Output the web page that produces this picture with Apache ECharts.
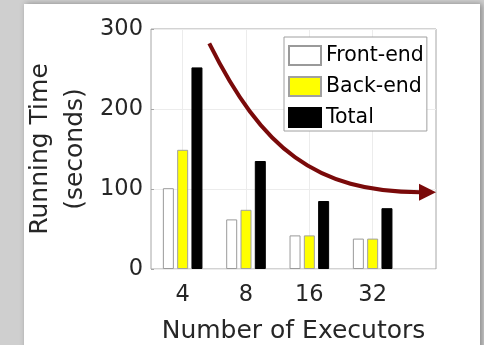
<!DOCTYPE html>
<html>
<head>
<meta charset="utf-8">
<script src="https://cdn.jsdelivr.net/npm/echarts@6/dist/echarts.min.js"></script>
<style>
  html, body { margin: 0; padding: 0; background: #cfcfcf; }
  #chart { width: 484px; height: 345px; }
</style>
</head>
<body>
<div id="chart"></div>
<script>
// Running time per stage for each executor count
const executors = ['4', '8', '16', '32'];
const frontEnd = [101, 62, 42, 38];
const backEnd = [149, 74, 42, 38];
const total = [252, 135, 85, 76];
const yTicks = [0, 100, 200, 300];

// Trend arrow anchor points, in axis units (x = executor slot, y = seconds)
const trendCurve = [[1.42, 282], [2.25, 150], [3.1, 96], [4.75, 96]];
const trendTip = [5.0, 96];

const FONT = 'DejaVu Sans';
const INK = '#262626';

const chart = echarts.init(document.getElementById('chart'), null, { renderer: 'canvas' });

const slots = executors.map((_, i) => i + 1);
const toPairs = arr => arr.map((v, i) => [slots[i], v]);

chart.setOption({
  backgroundColor: '#cfcfcf',
  animation: false,
  textStyle: { fontFamily: FONT, color: INK },
  grid: {
    left: 151, top: 29, width: 285, height: 240,
    show: true, borderColor: '#a6a6a6', borderWidth: 1,
    backgroundColor: '#ffffff',
    outerBoundsMode: 'none'
  },
  legend: {
    orient: 'vertical',
    left: 284, top: 37,
    padding: [8, 3, 3, 4],
    itemWidth: 32, itemHeight: 19, itemGap: 10,
    icon: 'rect',
    selectedMode: false,
    backgroundColor: '#ffffff',
    borderColor: '#a0a0a0', borderWidth: 1, borderRadius: 0,
    textStyle: { fontFamily: FONT, fontSize: 20.5, color: '#000', lineHeight: 20 },
    data: ['Front-end', 'Back-end', 'Total']
  },
  xAxis: {
    type: 'value',
    min: 0.5, max: 5, interval: 0.5,
    name: 'Number of Executors',
    nameLocation: 'middle', nameGap: 50, nameMoveOverlap: false,
    nameTextStyle: { fontFamily: FONT, fontSize: 25, color: INK },
    axisLine: { show: false },
    axisTick: { show: true, inside: true, length: 3, lineStyle: { color: '#a6a6a6' }, customValues: slots },
    axisLabel: {
      fontFamily: FONT, fontSize: 22.5, color: INK, margin: 15,
      customValues: slots,
      formatter: v => executors[Math.round(v) - 1] || ''
    },
    splitLine: { show: true, lineStyle: { color: '#ececec', width: 1 } }
  },
  yAxis: {
    type: 'value',
    min: yTicks[0], max: yTicks[yTicks.length - 1], interval: 100,
    name: 'Running Time\n(seconds)',
    nameLocation: 'middle', nameGap: 58, nameRotate: 90, nameMoveOverlap: false,
    nameTextStyle: { fontFamily: FONT, fontSize: 25, color: INK, lineHeight: 35, align: 'center' },
    axisLine: { show: false },
    axisTick: { show: true, inside: true, length: 3, lineStyle: { color: '#a6a6a6' } },
    axisLabel: { fontFamily: FONT, fontSize: 22.5, color: INK, margin: 8, padding: [4, 0, 0, 0] },
    splitLine: { show: true, lineStyle: { color: '#ececec', width: 1 } }
  },
  series: [
    {
      name: 'Front-end', type: 'bar', data: toPairs(frontEnd),
      barWidth: 11, barGap: '30%',
      itemStyle: { color: '#ffffff', borderColor: '#9a9a9a', borderWidth: 1 }
    },
    {
      name: 'Back-end', type: 'bar', data: toPairs(backEnd),
      barWidth: 11, barGap: '30%',
      itemStyle: { color: '#ffff00', borderColor: '#a0a0a0', borderWidth: 1 }
    },
    {
      name: 'Total', type: 'bar', data: toPairs(total),
      barWidth: 11, barGap: '30%',
      itemStyle: { color: '#000000', borderColor: '#000000', borderWidth: 1 }
    }
  ],
  graphic: [
    {
      id: 'panel', type: 'rect', z: -100, silent: true,
      shape: { x: 24, y: 4, width: 456, height: 360 },
      style: { fill: '#ffffff', shadowBlur: 6, shadowColor: 'rgba(0,0,0,0.35)', shadowOffsetX: 2 }
    }
  ]
});

// Trend arrow placed in axis units
const px = p => chart.convertToPixel({ gridIndex: 0 }, p);
const c = trendCurve.map(px);
const tip = px(trendTip);
const headBack = 17, headHalf = 8.5;
chart.setOption({
  graphic: [
    {
      id: 'trend', type: 'bezierCurve', z: 50, silent: true,
      shape: { x1: c[0][0], y1: c[0][1], cpx1: c[1][0], cpy1: c[1][1], cpx2: c[2][0], cpy2: c[2][1], x2: c[3][0], y2: c[3][1] },
      style: { stroke: '#7a0a0a', lineWidth: 4, fill: null, lineCap: 'butt' }
    },
    {
      id: 'trendHead', type: 'polygon', z: 50, silent: true,
      shape: { points: [[tip[0], tip[1]], [tip[0] - headBack, tip[1] - headHalf], [tip[0] - headBack, tip[1] + headHalf]] },
      style: { fill: '#7a0a0a' }
    }
  ]
});
</script>
</body>
</html>
